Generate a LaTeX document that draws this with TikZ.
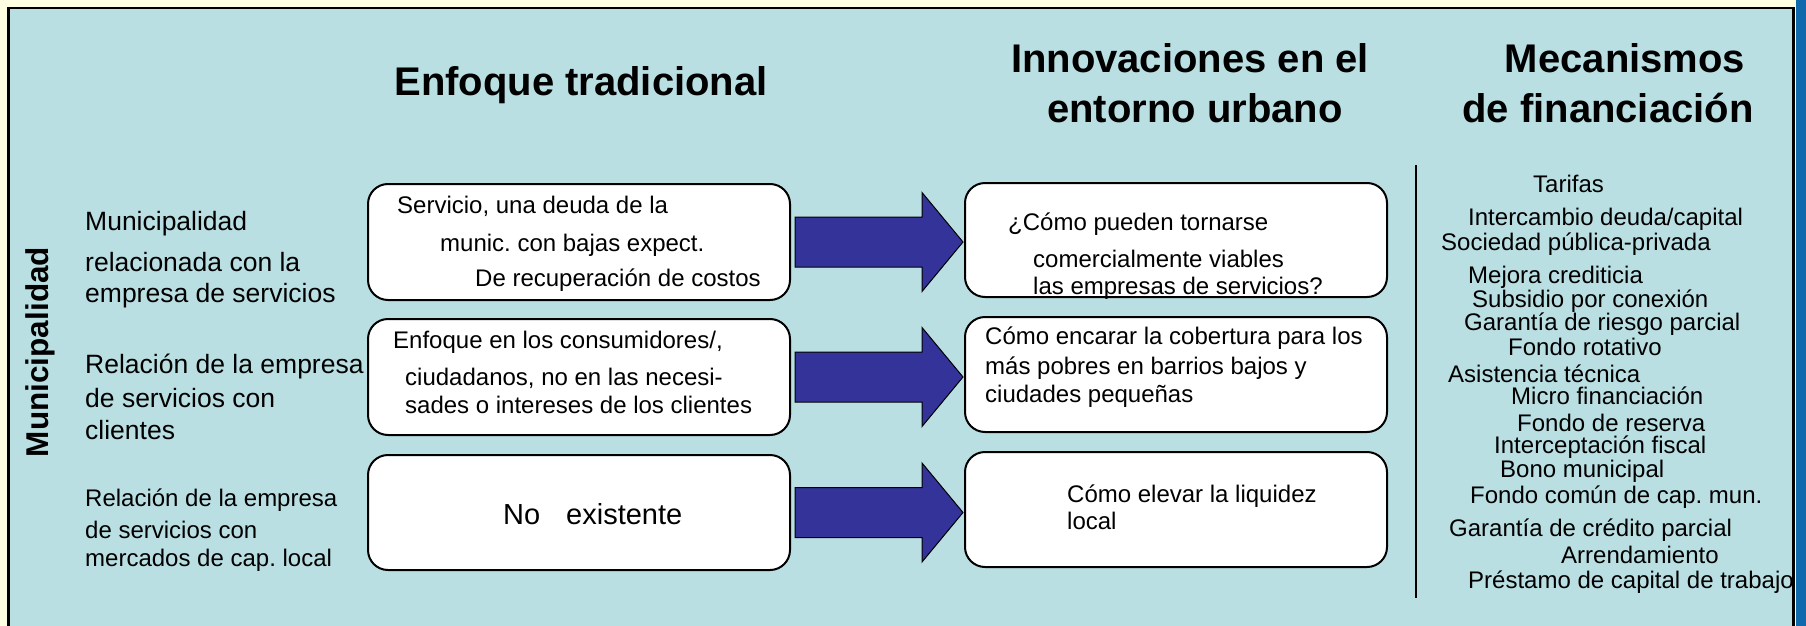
\documentclass[tikz,border=0pt]{standalone}
\usepackage{fontspec}
\setmainfont{Liberation Sans}
\usetikzlibrary{calc}
\frenchspacing
\definecolor{bgyellow}{HTML}{FFFFE1}
\definecolor{panelblue}{HTML}{B9DFE3}
\definecolor{stripblue}{HTML}{0F69AA}
\definecolor{arrowblue}{HTML}{333399}
\tikzset{
  rowlab/.style={anchor=base west, inner sep=0pt, font=\fontsize{26.5}{30}\selectfont},
  rowlabsmall/.style={anchor=base west, inner sep=0pt, font=\fontsize{24}{28}\selectfont},
  boxtxt/.style={anchor=base west, inner sep=0pt, font=\fontsize{24}{28}\selectfont},
  bigtxt/.style={anchor=base west, inner sep=0pt, font=\fontsize{29}{34}\selectfont},
  fintxt/.style={anchor=base west, inner sep=0pt, font=\fontsize{24}{27}\selectfont},
  headtxt/.style={anchor=base, inner sep=0pt, font=\fontsize{40}{48}\selectfont\bfseries},
  sidetxt/.style={inner sep=0pt, rotate=90, font=\fontsize{31.5}{36}\selectfont\bfseries},
  roundbox/.style={draw=black, line width=2pt, fill=white, rounded corners=20pt,
    minimum width=422pt, minimum height=115pt, inner sep=0pt, outer sep=0pt},
  blockarrow/.style={draw=black, line width=1pt, fill=arrowblue, line join=miter},
}
\begin{document}
\begin{tikzpicture}[x=1pt,y=-1pt]
\useasboundingbox (0,0) rectangle (1806,626);
% background and panel
\fill[bgyellow] (0,0) rectangle (1806,626);
\draw[line width=2.7pt, fill=panelblue] (8.7,8) rectangle (1793.8,650);
\fill[stripblue] (1795.5,0) rectangle (1806,626);

% headings
\node[headtxt] (h1) at (581,95) {Enfoque tradicional};
\node[headtxt] (h2a) at (1190,73) {Innovaciones en el};
\node[headtxt] (h2b) at (1195,122) {entorno urbano};
\node[headtxt] (h3a) at (1625,73) {Mecanismos};
\node[headtxt] (h3b) at (1608,122) {de financiación};

% side label
\node[sidetxt] (side) at (40,352) {Municipalidad};

% row labels
\node[rowlab] (r1a) at (85,230) {Municipalidad};
\node[rowlab] (r1b) at (85,271) {relacionada con la};
\node[rowlab] (r1c) at (85,302) {empresa de servicios};
\node[rowlab] (r2a) at (85,373) {Relación de la empresa};
\node[rowlab] (r2b) at (85,407) {de servicios con};
\node[rowlab] (r2c) at (85,439) {clientes};
\node[rowlabsmall] (r3a) at (85,506) {Relación de la empresa};
\node[rowlabsmall] (r3b) at (85,538) {de servicios con};
\node[rowlabsmall] (r3c) at (85,566) {mercados de cap. local};

% boxes
\node[roundbox, minimum height=116pt] (a1) at (579,242) {};
\node[roundbox, minimum height=116pt] (a2) at (579,377) {};
\node[roundbox] (a3) at (579,512.5) {};
\node[roundbox, minimum height=114pt] (b1) at (1176,240) {};
\node[roundbox] (b2) at (1176,374.5) {};
\node[roundbox] (b3) at (1176,509.5) {};

% box texts, column 1
\node[boxtxt] (t11) at (397,213) {Servicio, una deuda de la};
\node[boxtxt] (t12) at (440,251) {munic. con bajas expect.};
\node[boxtxt] (t13) at (475,286) {De recuperación de costos};
\node[boxtxt] (t21) at (393,348) {Enfoque en los consumidores/,};
\node[boxtxt] (t22) at (405,385) {ciudadanos, no en las necesi-};
\node[boxtxt] (t23) at (405,413) {sades o intereses de los clientes};
\node[bigtxt] (t31) at (503,524) {No};
\node[bigtxt] (t32) at (566,524) {existente};

% box texts, column 2
\node[boxtxt] (u11) at (1008,230) {¿Cómo pueden tornarse};
\node[boxtxt] (u12) at (1033,267) {comercialmente viables};
\node[boxtxt] (u13) at (1033,294) {las empresas de servicios?};
\node[boxtxt] (u21) at (985,344) {Cómo encarar la cobertura para los};
\node[boxtxt] (u22) at (985,374) {más pobres en barrios bajos y};
\node[boxtxt] (u23) at (985,402) {ciudades pequeñas};
\node[boxtxt] (u31) at (1067,502) {Cómo elevar la liquidez};
\node[boxtxt] (u32) at (1067,529) {local};

% block arrows
\foreach \i in {1,2,3}{
  \coordinate (tip\i) at (b\i.west |- a\i.east);
  \draw[blockarrow] ($(a\i.east)+(5,-25)$) -- ($(tip\i)+(-43,-25)$)
    -- ($(tip\i)+(-43,-49.5)$) -- ($(tip\i)+(-2,0)$)
    -- ($(tip\i)+(-43,49.5)$) -- ($(tip\i)+(-43,25)$)
    -- ($(a\i.east)+(5,25)$) -- cycle;
}

% separator line
\coordinate (sepTop) at (1416,165);
\coordinate (sepBot) at (1416,598);
\draw[line width=2.5pt] (sepTop) -- (sepBot);

% financing mechanisms
\node[fintxt] (f01) at (1533,192) {Tarifas};
\node[fintxt] (f02) at (1468,225) {Intercambio deuda/capital};
\node[fintxt] (f03) at (1441,250) {Sociedad pública-privada};
\node[fintxt] (f04) at (1468,283) {Mejora crediticia};
\node[fintxt] (f05) at (1472,307) {Subsidio por conexión};
\node[fintxt] (f06) at (1464,330) {Garantía de riesgo parcial};
\node[fintxt] (f07) at (1508,355) {Fondo rotativo};
\node[fintxt] (f08) at (1448,382) {Asistencia técnica};
\node[fintxt] (f09) at (1511,404) {Micro financiación};
\node[fintxt] (f10) at (1517,431) {Fondo de reserva};
\node[fintxt] (f11) at (1494,453) {Interceptación fiscal};
\node[fintxt] (f12) at (1500,477) {Bono municipal};
\node[fintxt] (f13) at (1470,503) {Fondo común de cap. mun.};
\node[fintxt] (f14) at (1449,536) {Garantía de crédito parcial};
\node[fintxt] (f15) at (1561,563) {Arrendamiento};
\node[fintxt] (f16) at (1468,588) {Préstamo de capital de trabajo};
\end{tikzpicture}
\end{document}
